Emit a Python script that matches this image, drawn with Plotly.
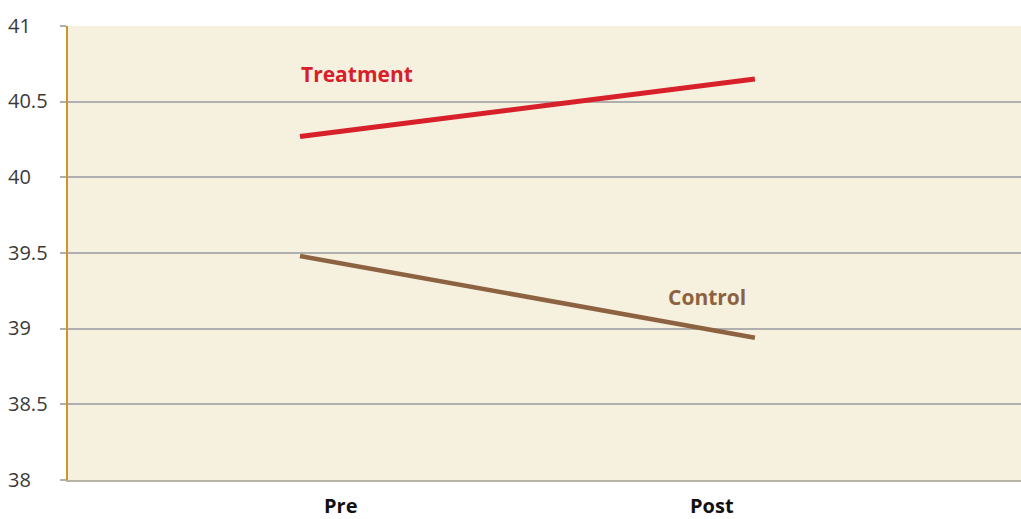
import plotly.graph_objects as go

# Pre/post means for each group
phases = ["Pre", "Post"]
treatment = [40.27, 40.65]
control = [39.48, 38.94]
y_ticks = [38, 38.5, 39, 39.5, 40, 40.5, 41]
y_tick_text = ["38", "38.5", "39", "39.5", "40", "40.5", "41"]

RED = "#D8202B"
BROWN = "#8C6240"
x_idx = list(range(len(phases)))

fig = go.Figure()
fig.add_trace(go.Scatter(x=x_idx, y=treatment, mode="lines", name="Treatment",
                         line=dict(color=RED, width=5), showlegend=False, hoverinfo="skip"))
fig.add_trace(go.Scatter(x=x_idx, y=control, mode="lines", name="Control",
                         line=dict(color=BROWN, width=4.5), showlegend=False, hoverinfo="skip"))

annotations = []
# series labels
annotations.append(dict(x=x_idx[0], y=treatment[1] + 0.03, xref="x", yref="y", text="<b>Treatment</b>",
                        showarrow=False, xanchor="center", xshift=57,
                        font=dict(family="Open Sans", size=21, color=RED)))
annotations.append(dict(x=x_idx[1], y=control[0] - 0.27, xref="x", yref="y", text="<b>Control</b>",
                        showarrow=False, xanchor="center", xshift=-48,
                        font=dict(family="Open Sans", size=21, color=BROWN)))
# category labels, offset inward from the line ends
for i, (name, shift) in enumerate(zip(phases, [40, -43])):
    annotations.append(dict(x=x_idx[i], y=0, xref="x", yref="paper", text=f"<b>{name}</b>",
                            showarrow=False, xanchor="center", yanchor="top", xshift=shift, yshift=-10,
                            font=dict(family="Open Sans", size=20, color="#111111")))
# left-aligned y tick labels
for v, t in zip(y_ticks, y_tick_text):
    annotations.append(dict(x=0, y=v, xref="paper", yref="y", text=t, showarrow=False,
                            xanchor="left", yanchor="middle", xshift=-62, yshift=1,
                            font=dict(family="Open Sans", size=20, color="#3a3a3a")))

fig.update_layout(
    width=1021, height=519,
    margin=dict(l=68, r=0, t=26, b=39),
    paper_bgcolor="white",
    plot_bgcolor="#F6F0DF",
    annotations=annotations,
    xaxis=dict(range=[-0.51, 1.585], showgrid=False, zeroline=False, showticklabels=False,
               showline=True, linecolor="#B9B4A8", linewidth=2, fixedrange=True),
    yaxis=dict(range=[38, 41], tickvals=y_ticks, showticklabels=False,
               showgrid=True, gridcolor="#AFAFAF", gridwidth=1.5, zeroline=False,
               ticks="outside", ticklen=6, tickcolor="#AFAFAF", tickwidth=1.5,
               showline=True, linecolor="#C9972B", linewidth=1.5, fixedrange=True),
)

fig.write_html("out.html")
